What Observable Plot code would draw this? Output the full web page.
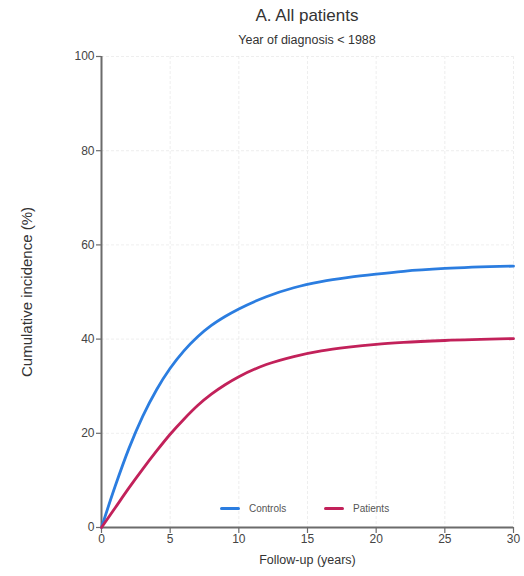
<!DOCTYPE html>
<html>
<head>
<meta charset="utf-8">
<script src="https://cdn.jsdelivr.net/npm/d3@7"></script>
<script src="https://cdn.jsdelivr.net/npm/@observablehq/plot@0.6"></script>
<style>
  body { margin: 0; background: #fff; font-family: "Liberation Sans", Arial, sans-serif; }
  #wrap { position: relative; width: 524px; height: 576px; }
  #title { position: absolute; left: 101px; width: 412px; top: 6px; text-align: center; font-size: 17px; color: #333; }
  #subtitle { position: absolute; left: 101px; width: 412px; top: 33px; text-align: center; font-size: 12.5px; color: #333; }
  #chart { position: absolute; left: 0; top: 50px; }
  .leg { position: absolute; top: 503px; font-size: 10px; color: #555; display: flex; align-items: center; }
  .sw { width: 20px; height: 3px; border-radius: 2px; margin-right: 9px; }
</style>
</head>
<body>
<div id="wrap">
  <div id="title">A. All patients</div>
  <div id="subtitle">Year of diagnosis &lt; 1988</div>
  <div id="chart"></div>
  <div class="leg" style="left:220px"><div class="sw" id="sw0"></div><span id="lg0"></span></div>
  <div class="leg" style="left:324px"><div class="sw" id="sw1"></div><span id="lg1"></span></div>
</div>
<script>
const years = [0, 1, 2, 3, 4, 5, 6, 7, 8, 9, 10, 12, 14, 16, 18, 20, 22, 25, 30];
const controls = [0, 8.8, 16.8, 23.6, 29.2, 33.8, 37.5, 40.5, 42.9, 44.8, 46.4, 49.0, 50.9, 52.2, 53.1, 53.8, 54.4, 55.0, 55.5];
const patients = [0, 4.2, 8.4, 12.4, 16.2, 19.8, 23.0, 25.9, 28.3, 30.3, 32.0, 34.6, 36.3, 37.5, 38.3, 38.9, 39.3, 39.7, 40.1];
const seriesNames = ["Controls", "Patients"];
const seriesColors = ["#2b7de0", "#c2215a"];
const xTicks = [0, 5, 10, 15, 20, 25, 30];
const yTicks = [0, 20, 40, 60, 80, 100];

const data = [];
years.forEach((y, i) => {
  data.push({year: y, value: controls[i], series: seriesNames[0]});
  data.push({year: y, value: patients[i], series: seriesNames[1]});
});

seriesNames.forEach((n, i) => {
  document.getElementById("lg" + i).textContent = n;
  document.getElementById("sw" + i).style.background = seriesColors[i];
});

const axisColor = "#6b6b6b";
const chart = Plot.plot({
  width: 524,
  height: 526,
  marginLeft: 101,
  marginRight: 11,
  marginTop: 6,
  marginBottom: 49,
  style: {fontFamily: "Liberation Sans, Arial, sans-serif", fontSize: "12px", color: "#444", background: "#fff"},
  x: {domain: [0, 30]},
  y: {domain: [0, 100]},
  color: {domain: seriesNames, range: seriesColors},
  marks: [
    Plot.gridX(xTicks.slice(1), {stroke: "#e2e2e2", strokeOpacity: 1, strokeDasharray: "3,2", strokeWidth: 0.6}),
    Plot.gridY(yTicks.slice(1), {stroke: "#e2e2e2", strokeOpacity: 1, strokeDasharray: "3,2", strokeWidth: 0.6}),
    Plot.axisX(xTicks, {tickSize: 6, tickPadding: 1, stroke: axisColor, strokeWidth: 1.2, label: "Follow-up (years)", labelAnchor: "center", labelArrow: "none", labelOffset: 36, fill: "#444"}),
    Plot.axisY(yTicks, {tickSize: 5, tickPadding: 2, stroke: axisColor, strokeWidth: 1.2, label: "Cumulative incidence (%)", labelAnchor: "center", labelArrow: "none", labelOffset: 80, fill: "#444"}),
    Plot.ruleX([0], {y1: 0, y2: 100, stroke: axisColor, strokeWidth: 2}),
    Plot.ruleY([0], {x1: 0, x2: 30, stroke: axisColor, strokeWidth: 2}),
    Plot.line(data, {x: "year", y: "value", stroke: "series", strokeWidth: 2.8, curve: "monotone-x"})
  ]
});
document.getElementById("chart").appendChild(chart);
d3.select(chart).selectAll('g[aria-label="y-axis label"] text').style("font-size", "15px").style("fill", "#333");
d3.select(chart).selectAll('g[aria-label="x-axis label"] text').style("font-size", "12.5px").style("fill", "#333");
</script>
</body>
</html>
